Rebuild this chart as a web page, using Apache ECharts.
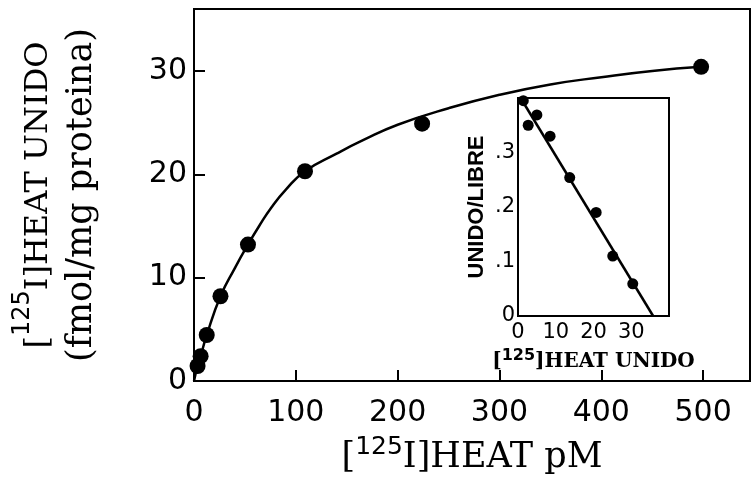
<!DOCTYPE html>
<html><head><meta charset="utf-8">
<script src="https://cdn.jsdelivr.net/npm/echarts@6/dist/echarts.min.js"></script>
<style>html,body{margin:0;padding:0;background:#fff}#c{width:755px;height:479px}</style>
</head><body><div id="c"></div>
<script>
// Main saturation data: [125I]HEAT pM vs bound (fmol/mg protein)
const mainConc  = [3.5, 6.5, 12.5, 26, 53, 109, 224, 498];
const mainBound = [1.45, 2.4, 4.45, 8.2, 13.2, 20.3, 24.9, 30.4];
// Fitted curve
const curveConc  = [0, 3.5, 6.5, 12.5, 26, 40, 53, 64, 76, 90, 109, 140, 166, 200, 250, 300, 350, 400, 450, 498];
const curveBound = [0, 1.45, 2.4, 4.45, 8.2, 10.9, 13.2, 15.0, 16.8, 18.5, 20.3, 22.0, 23.3, 24.8, 26.4, 27.7, 28.7, 29.4, 30.0, 30.4];
// Inset Scatchard data
const insetBound = [1.4, 2.7, 5.0, 8.5, 13.7, 20.7, 25.1, 30.4];
const insetRatio = [0.395, 0.350, 0.369, 0.330, 0.254, 0.190, 0.110, 0.059];
const insetFitX = [0.7, 35.8];
const insetFitY = [0.4, 0];
// Tick labels
const mainXTicks = [0, 100, 200, 300, 400, 500];
const mainYTicks = [0, 10, 20, 30];
const insetXTicks = [0, 10, 20, 30];
const insetYTicks = ['0', '.1', '.2', '.3'];

const zip = (a, b) => a.map((v, i) => [v, b[i]]);
const chart = echarts.init(document.getElementById('c'), null, {renderer: 'canvas'});
const black = '#000';
const tickFont = 'DejaVu Sans';
const serif = 'DejaVu Serif';

chart.setOption({
  animation: false,
  backgroundColor: '#fff',
  grid: [
    {left: 194, top: 9, right: 5, bottom: 98, show: true, borderColor: black, borderWidth: 2,
      backgroundColor: 'transparent', containLabel: false, outerBoundsMode: 'none'},
    {left: 518, top: 98, width: 151, height: 218, show: true, borderColor: black, borderWidth: 2,
      backgroundColor: '#fff', z: 5, containLabel: false, outerBoundsMode: 'none'}
  ],
  xAxis: [
    {
      gridIndex: 0, type: 'value', min: 0, max: 546, interval: 100,
      splitLine: {show: false},
      axisLine: {show: true, onZero: false, lineStyle: {color: black, width: 2}},
      axisTick: {show: true, inside: true, length: 11, lineStyle: {color: black, width: 2}},
      axisLabel: {color: black, fontFamily: tickFont, fontSize: 30, margin: 17,
        formatter: v => mainXTicks.includes(v) ? String(v) : ''},
      name: '{a|[}{s|125}{a|I]HEAT pM}',
      nameLocation: 'middle', nameGap: 54, nameMoveOverlap: false,
      nameTextStyle: {rich: {
        a: {fontFamily: serif, fontSize: 35, color: black, lineHeight: 40, verticalAlign: 'bottom'},
        s: {fontFamily: tickFont, fontSize: 25, color: black, lineHeight: 22, verticalAlign: 'top'}
      }}
    },
    {
      gridIndex: 1, type: 'value', min: 0, max: 40, interval: 10,
      splitLine: {show: false},
      axisLine: {show: true, onZero: false, lineStyle: {color: black, width: 2}},
      axisTick: {show: true, inside: true, length: 6, lineStyle: {color: black, width: 1.5}},
      axisLabel: {color: black, fontFamily: tickFont, fontSize: 21, margin: 6,
        formatter: v => insetXTicks.includes(v) ? String(v) : ''},
      name: '{a|[}{s|125}{a|]HEAT UNIDO}',
      nameLocation: 'middle', nameGap: 32, nameMoveOverlap: false,
      nameTextStyle: {rich: {
        a: {fontFamily: serif, fontSize: 20, fontWeight: 'bold', color: black, lineHeight: 24, verticalAlign: 'bottom'},
        s: {fontFamily: tickFont, fontSize: 16, fontWeight: 'bold', color: black, lineHeight: 16, verticalAlign: 'top'}
      }}
    }
  ],
  yAxis: [
    {
      gridIndex: 0, type: 'value', min: 0, max: 36, interval: 10,
      splitLine: {show: false},
      axisLine: {show: true, onZero: false, lineStyle: {color: black, width: 2}},
      axisTick: {show: true, inside: true, length: 11, lineStyle: {color: black, width: 2}},
      axisLabel: {color: black, fontFamily: tickFont, fontSize: 30, margin: 7,
        formatter: v => mainYTicks.includes(v) ? String(v) : ''},
      name: '{a|[}{s|125}{a|I]HEAT UNIDO}\n{b|(fmol/mg proteina)}',
      nameLocation: 'middle', nameGap: 95, nameRotate: 90, nameMoveOverlap: false,
      nameTextStyle: {rich: {
        a: {fontFamily: serif, fontSize: 32, color: black, lineHeight: 44, verticalAlign: 'bottom'},
        b: {fontFamily: serif, fontSize: 35, color: black, lineHeight: 44, verticalAlign: 'bottom'},
        s: {fontFamily: tickFont, fontSize: 24, color: black, lineHeight: 22, verticalAlign: 'top'}
      }}
    },
    {
      gridIndex: 1, type: 'value', min: 0, max: 0.4, interval: 0.1,
      splitLine: {show: false},
      axisLine: {show: true, onZero: false, lineStyle: {color: black, width: 2}},
      axisTick: {show: true, inside: true, length: 6, lineStyle: {color: black, width: 1.5}},
      axisLabel: {color: black, fontFamily: tickFont, fontSize: 21, margin: 3,
        formatter: v => { const i = Math.round(v * 10); return i < insetYTicks.length ? insetYTicks[i] : ''; }},
      name: 'UNIDO/LIBRE',
      nameLocation: 'middle', nameGap: 30, nameRotate: 90, nameMoveOverlap: false,
      nameTextStyle: {fontFamily: 'Liberation Sans', fontWeight: 'bold', fontSize: 22, color: black}
    }
  ],
  series: [
    {type: 'line', xAxisIndex: 0, yAxisIndex: 0, data: zip(curveConc, curveBound), smooth: 0.5,
      showSymbol: false, lineStyle: {color: black, width: 2.5}, z: 2},
    {type: 'scatter', xAxisIndex: 0, yAxisIndex: 0, data: zip(mainConc, mainBound), symbolSize: 16,
      itemStyle: {color: black, opacity: 1}, z: 3},
    {type: 'line', xAxisIndex: 1, yAxisIndex: 1, data: zip(insetFitX, insetFitY), showSymbol: false,
      lineStyle: {color: black, width: 2.5}, z: 6},
    {type: 'scatter', xAxisIndex: 1, yAxisIndex: 1, data: zip(insetBound, insetRatio), symbolSize: 11,
      itemStyle: {color: black, opacity: 1}, z: 7}
  ]
});
</script>
</body></html>
